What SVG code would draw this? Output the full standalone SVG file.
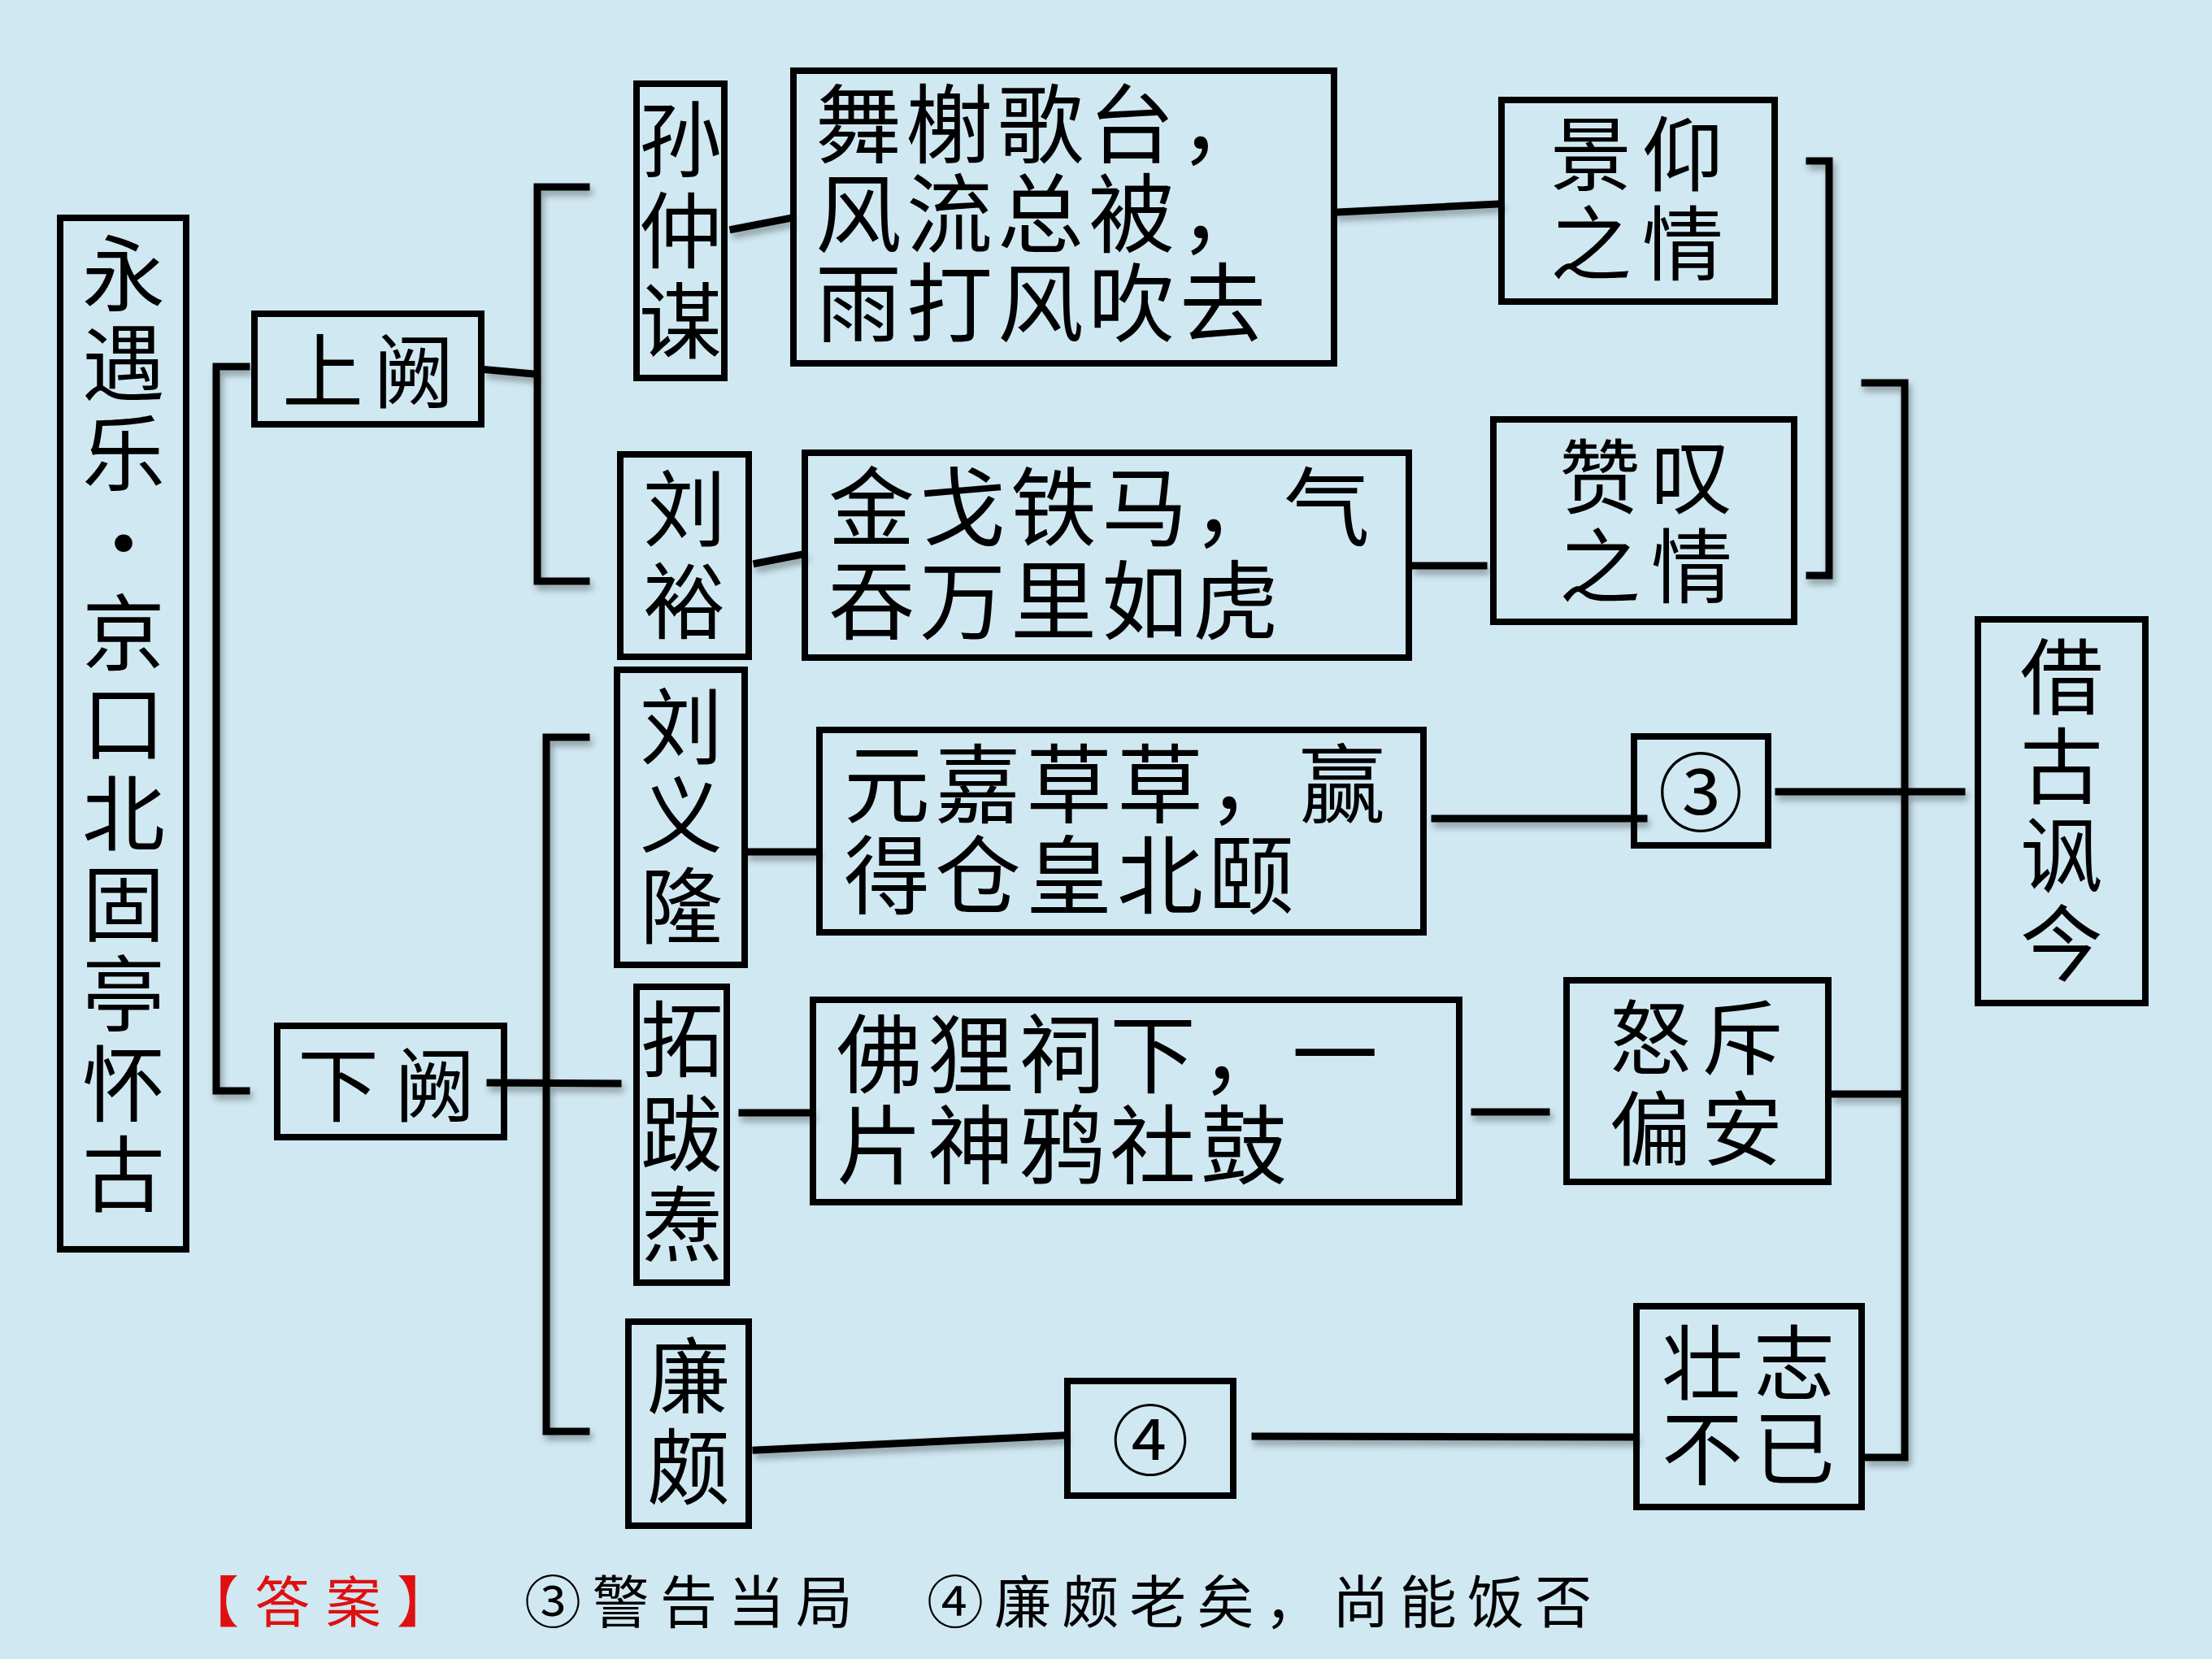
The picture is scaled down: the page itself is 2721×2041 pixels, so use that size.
<svg xmlns="http://www.w3.org/2000/svg" width="2721" height="2041" viewBox="0 0 2721 2041">
<defs>
<style>
.box{fill:none;stroke:#000;stroke-width:8}
.t{font-family:"Noto Sans CJK SC","Noto Sans CJK JP",sans-serif;fill:#000;dominant-baseline:central}
.v{text-anchor:middle;font-size:102px}
.m{font-size:106px;letter-spacing:6px}
.s{font-size:100px;letter-spacing:13px}
.c{stroke:#000;stroke-width:9;fill:none;stroke-linecap:square}
.ans{font-size:70px}
</style>
<filter id="sh" x="-10%" y="-10%" width="120%" height="130%">
<feDropShadow dx="3" dy="6" stdDeviation="4" flood-color="#000" flood-opacity="0.35"/>
</filter>
</defs>
<rect x="0" y="0" width="2721" height="2041" fill="#d0e8f2"/>

<g id="connectors" filter="url(#sh)">
<polyline class="c" points="303,451 266,451 266,1342 303,1342"/>
<line class="c" x1="600" y1="455" x2="657" y2="460"/>
<polyline class="c" points="721,230 661,230 661,715 721,715"/>
<line class="c" x1="902" y1="282" x2="969" y2="269"/>
<line class="c" x1="931" y1="693" x2="987" y2="682"/>
<line class="c" x1="1646" y1="261" x2="1843" y2="251"/>
<line class="c" x1="1741" y1="696" x2="1825" y2="696"/>
<polyline class="c" points="2226,198 2250,198 2250,708 2226,708"/>
<polyline class="c" points="2294,471 2343,471 2343,1793 2298,1793"/>
<line class="c" x1="603" y1="1332" x2="760" y2="1333"/>
<polyline class="c" points="721,907 672,907 672,1761 721,1761"/>
<line class="c" x1="922" y1="1048" x2="1002" y2="1048"/>
<line class="c" x1="1765" y1="1007" x2="2022" y2="1007"/>
<line class="c" x1="2188" y1="974" x2="2413" y2="974"/>
<line class="c" x1="913" y1="1369" x2="996" y2="1369"/>
<line class="c" x1="1814" y1="1368" x2="1902" y2="1368"/>
<line class="c" x1="2257" y1="1346" x2="2337" y2="1346"/>
<line class="c" x1="930" y1="1784" x2="1307" y2="1766"/>
<line class="c" x1="1544" y1="1767" x2="2009" y2="1768"/>
</g>

<g id="title">
<rect class="box" x="74" y="268" width="155" height="1269"/>
<text class="t v"><tspan x="152" y="330">永</tspan><tspan x="152" y="440">遇</tspan><tspan x="152" y="551">乐</tspan><tspan x="152" y="662">·</tspan><tspan x="152" y="772">京</tspan><tspan x="152" y="883">口</tspan><tspan x="152" y="994">北</tspan><tspan x="152" y="1105">固</tspan><tspan x="152" y="1216">亭</tspan><tspan x="152" y="1327">怀</tspan><tspan x="152" y="1438">古</tspan></text>
</g>

<g id="shangque">
<rect class="box" x="313" y="386" width="279" height="136"/>
<text class="t" x="347" y="450" font-size="100" letter-spacing="12">上阙</text>
</g>
<g id="xiaque">
<rect class="box" x="341" y="1262" width="279" height="137"/>
<text class="t" x="366" y="1328" font-size="100" letter-spacing="19">下阙</text>
</g>

<g id="sunzhongmou">
<rect class="box" x="783" y="103" width="108" height="362"/>
<text class="t v"><tspan x="837" y="165">孙</tspan><tspan x="837" y="277">仲</tspan><tspan x="837" y="388">谋</tspan></text>
</g>
<g id="liuyu">
<rect class="box" x="763" y="559" width="158" height="249"/>
<text class="t v"><tspan x="842" y="619">刘</tspan><tspan x="842" y="733">裕</tspan></text>
</g>
<g id="liuyilong">
<rect class="box" x="759" y="824" width="157" height="363"/>
<text class="t v"><tspan x="838" y="887">刘</tspan><tspan x="838" y="996">义</tspan><tspan x="838" y="1108">隆</tspan></text>
</g>
<g id="tuobatao">
<rect class="box" x="783" y="1214" width="111" height="364"/>
<text class="t v"><tspan x="839" y="1272">拓</tspan><tspan x="839" y="1388">跋</tspan><tspan x="839" y="1500">焘</tspan></text>
</g>
<g id="lianpo">
<rect class="box" x="773" y="1626" width="148" height="251"/>
<text class="t v"><tspan x="847" y="1686">廉</tspan><tspan x="847" y="1798">颇</tspan></text>
</g>

<g id="wuxie">
<rect class="box" x="976" y="87" width="665" height="360"/>
<text class="t m"><tspan x="1003" y="146">舞榭歌台，</tspan><tspan x="1003" y="256">风流总被，</tspan><tspan x="1003" y="366">雨打风吹去</tspan></text>
</g>
<g id="jinge">
<rect class="box" x="990" y="557" width="743" height="252"/>
<text class="t m"><tspan x="1019" y="617">金戈铁马，气</tspan><tspan x="1019" y="732">吞万里如虎</tspan></text>
</g>
<g id="yuanjia">
<rect class="box" x="1008" y="898" width="743" height="249"/>
<text class="t m"><tspan x="1038" y="958">元嘉草草，赢</tspan><tspan x="1038" y="1070">得仓皇北颐</tspan></text>
</g>
<g id="foli">
<rect class="box" x="1000" y="1230" width="795" height="249"/>
<text class="t m"><tspan x="1029" y="1290">佛狸祠下，一</tspan><tspan x="1029" y="1402">片神鸦社鼓</tspan></text>
</g>

<g id="jingyang">
<rect class="box" x="1847" y="123" width="336" height="248"/>
<text class="t s"><tspan x="1907" y="183">景仰</tspan><tspan x="1907" y="293">之情</tspan></text>
</g>
<g id="zantan">
<rect class="box" x="1837" y="516" width="370" height="249"/>
<text class="t s"><tspan x="1918" y="580">赞叹</tspan><tspan x="1918" y="690">之情</tspan></text>
</g>
<g id="circ3">
<rect class="box" x="2010" y="906" width="165" height="134"/>
<text class="t" x="2092" y="968" font-size="105" text-anchor="middle">③</text>
</g>
<g id="nuchi">
<rect class="box" x="1927" y="1206" width="322" height="248"/>
<text class="t s"><tspan x="1980" y="1270">怒斥</tspan><tspan x="1980" y="1382">偏安</tspan></text>
</g>
<g id="circ4">
<rect class="box" x="1313" y="1699" width="204" height="141"/>
<text class="t" x="1415" y="1766" font-size="95" text-anchor="middle">④</text>
</g>
<g id="zhuangzhi">
<rect class="box" x="2013" y="1607" width="277" height="247"/>
<text class="t s"><tspan x="2044" y="1670">壮志</tspan><tspan x="2044" y="1775">不已</tspan></text>
</g>
<g id="jiegu">
<rect class="box" x="2433" y="762" width="206" height="472"/>
<text class="t v"><tspan x="2536" y="826">借</tspan><tspan x="2536" y="936">古</tspan><tspan x="2536" y="1045">讽</tspan><tspan x="2536" y="1154">今</tspan></text>
</g>

<g id="answer">
<text class="t" x="226" y="1966" font-size="68" style="fill:#e01010" textLength="330" lengthAdjust="spacing">【答案】</text>
<text class="t ans" x="645" y="1966" textLength="404" lengthAdjust="spacing">③警告当局</text>
<text class="t ans" x="1140" y="1966" textLength="818" lengthAdjust="spacing">④廉颇老矣，尚能饭否</text>
</g>
</svg>
